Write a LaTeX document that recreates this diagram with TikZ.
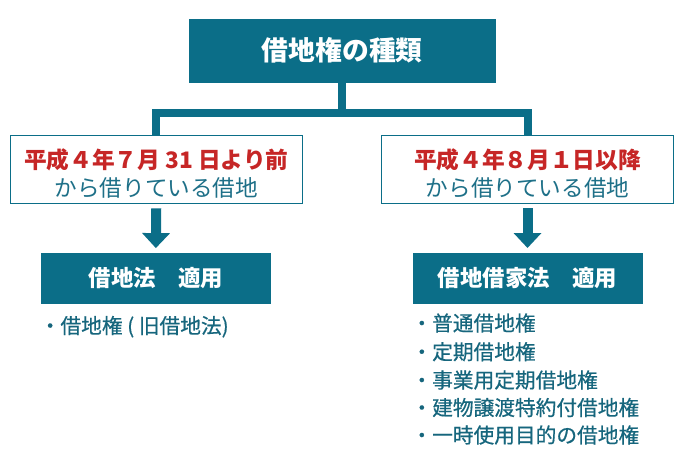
\documentclass[tikz,border=0pt]{standalone}
\usepackage{fontspec}
\setmainfont{Noto Sans CJK JP}
\newfontfamily\cjkmedium{Noto Sans CJK JP}[FakeBold=0.5]
\usetikzlibrary{arrows.meta,calc}
\definecolor{tealfill}{HTML}{0B6E88}
\definecolor{redtxt}{HTML}{C62626}
\definecolor{tealtxt}{HTML}{1E7088}
\definecolor{listtxt}{HTML}{16667D}
\tikzset{
  titlebox/.style={fill=tealfill, draw=tealfill, text=white, inner sep=0pt,
    font=\bfseries\fontsize{26.8}{30}\selectfont},
  lawbox/.style={fill=tealfill, draw=tealfill, text=white, inner sep=0pt,
    minimum width=229pt, minimum height=50pt,
    font=\bfseries\fontsize{22.4}{26}\selectfont},
  periodbox/.style={fill=white, draw=tealfill, line width=0.8pt, inner sep=0pt,
    minimum width=292pt, minimum height=68pt},
  redline/.style={text=redtxt, inner sep=0pt, font=\bfseries\fontsize{22.7}{26}\selectfont},
  tealline/.style={text=tealtxt, inner sep=0pt, font=\fontsize{22.6}{26}\selectfont},
  listitem/.style={text=listtxt, inner sep=0pt, anchor=west, font=\cjkmedium\fontsize{20.7}{24}\selectfont},
  conn/.style={draw=tealfill, line width=8pt, line join=miter},
  downarrow/.style={draw=tealfill, line width=10pt, shorten <=5pt, shorten >=5pt,
    -{Triangle[width=27pt,length=15pt]}}
}
\begin{document}
\begin{tikzpicture}[x=1pt,y=-1pt]
\useasboundingbox (0,0) rectangle (685,463);
\fill[white] (0,0) rectangle (685,463);

\node[titlebox, minimum width=305.7pt, minimum height=62.4pt] (top) at (342.2,50.5) {借地権の種類};

\node[periodbox] (left) at (156.3,169) {};
\node[redline] (leftA) at (156.3,160) {平成４年７月 31 日より前};
\node[tealline] (leftB) at (156.3,188) {から借りている借地};

\node[periodbox] (right) at (527.5,169) {};
\node[redline] (rightA) at (527.5,160) {平成４年８月１日以降};
\node[tealline] (rightB) at (527.5,188) {から借りている借地};

\node[lawbox] (lawL) at (155.8,278.3) {借地法　適用};
\node[lawbox] (lawR) at (527.5,278.2) {借地借家法　適用};

\coordinate (j) at ($(top.south)+(0,31.3)$);
\draw[conn] (top.south) -- (j);
\draw[conn] (left.north) |- (j) -| (right.north);

\draw[downarrow] (left.south) -- (lawL.north);
\draw[downarrow] (right.south) -- (lawR.north);

\node[listitem] (l1) at (39.6,326.7) {・借地権 ( 旧借地法)};

\node[listitem] (r1) at (411.3,323) {・普通借地権};
\node[listitem] (r2) at (411.3,351.7) {・定期借地権};
\node[listitem] (r3) at (411.3,380) {・事業用定期借地権};
\node[listitem] (r4) at (411.3,407.5) {・建物譲渡特約付借地権};
\node[listitem] (r5) at (411.3,435) {・一時使用目的の借地権};
\end{tikzpicture}
\end{document}
